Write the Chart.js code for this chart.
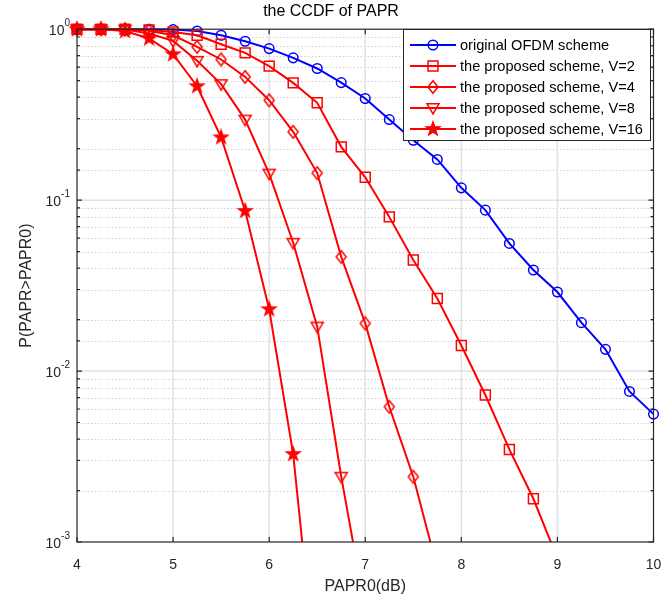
<!DOCTYPE html>
<html>
<head>
<meta charset="utf-8">
<title>CCDF of PAPR</title>
<script src="https://cdn.jsdelivr.net/npm/chart.js@4.4.0/dist/chart.umd.min.js"></script>
<style>
  html, body { margin: 0; padding: 0; background: #fff; }
</style>
</head>
<body>
<canvas id="ccdfChart" width="662" height="605"></canvas>
<script>
// PAPR threshold (dB) and CCDF curves
var paprDb = [4, 4.25, 4.5, 4.75, 5, 5.25, 5.5, 5.75, 6, 6.25, 6.5, 6.75, 7, 7.25, 7.5, 7.75, 8, 8.25, 8.5, 8.75, 9, 9.25, 9.5, 9.75, 10];
var ccdfOriginal = [1, 1, 1, 0.999, 0.995, 0.977, 0.922, 0.85, 0.77, 0.68, 0.589, 0.487, 0.393, 0.296, 0.224, 0.173, 0.118, 0.0874, 0.0558, 0.039, 0.029, 0.0192, 0.0134, 0.0076, 0.0056];
var ccdfV2 = [1, 1, 1, 0.99, 0.964, 0.922, 0.817, 0.727, 0.608, 0.485, 0.371, 0.205, 0.136, 0.0798, 0.0446, 0.0266, 0.0141, 0.00724, 0.00348, 0.00179, 0.0008];
var ccdfV4 = [1, 1, 1, 0.98, 0.922, 0.788, 0.665, 0.526, 0.384, 0.251, 0.144, 0.0466, 0.019, 0.00618, 0.00241, 0.0007];
var ccdfV8 = [1, 1, 0.995, 0.944, 0.854, 0.653, 0.477, 0.296, 0.143, 0.0563, 0.0182, 0.00241, 0.0004];
var ccdfV16 = [1, 1, 0.975, 0.882, 0.714, 0.464, 0.233, 0.0866, 0.023, 0.00327, 0.00014];

var seriesLabels = [
    "original OFDM scheme",
    "the proposed scheme, V=2",
    "the proposed scheme, V=4",
    "the proposed scheme, V=8",
    "the proposed scheme, V=16"
];

var axisInk = "#262626";
var fontFamily = '"Liberation Sans", Arial, Helvetica, sans-serif';

// small canvases for the marker shapes chart.js has no match for
function shapeMarker(size, color, filled, pts) {
    var c = document.createElement("canvas");
    c.width = size; c.height = size;
    var g = c.getContext("2d");
    g.beginPath();
    pts.forEach(function (p, i) {
        if (i === 0) g.moveTo(size / 2 + p[0], size / 2 + p[1]);
        else g.lineTo(size / 2 + p[0], size / 2 + p[1]);
    });
    g.closePath();
    if (filled) { g.fillStyle = color; g.fill(); }
    g.strokeStyle = color;
    g.lineWidth = 1.5;
    g.stroke();
    return c;
}

var starPts = [];
for (var k = 0; k < 10; k++) {
    var r = k % 2 ? 2.8 : 7;
    var ang = -Math.PI / 2 + k * Math.PI / 5;
    starPts.push([r * Math.cos(ang), r * Math.sin(ang)]);
}
var diamondMarker = shapeMarker(16, "#ff0000", false, [[0, -6.2], [5, 0], [0, 6.2], [-5, 0]]);
var downTriMarker = shapeMarker(16, "#ff0000", false, [[-6, -4.2], [6, -4.2], [0, 6]]);
var starMarker = shapeMarker(18, "#ff0000", true, starPts);

function toPoints(ys) {
    return ys.map(function (v, i) { return { x: paprDb[i], y: v }; });
}

function lineSet(label, ys, color, style, radius, order) {
    return {
        label: label,
        data: toPoints(ys),
        borderColor: color,
        backgroundColor: "rgba(0,0,0,0)",
        borderWidth: 2,
        pointStyle: style,
        pointRadius: radius,
        pointBorderWidth: 1.5,
        pointBorderColor: color,
        pointBackgroundColor: "rgba(0,0,0,0)",
        tension: 0,
        order: order,
        clip: { left: 9, top: 9, right: 9, bottom: 0 }
    };
}

function isDecade(v) {
    var e = Math.log10(v);
    return Math.abs(e - Math.round(e)) < 1e-9;
}

// grid, boxed axes with inward ticks, y labels with exponents, legend
var matlabAxes = {
    id: "matlabAxes",
    beforeDatasetsDraw: function (chart) {
        var ctx = chart.ctx, a = chart.chartArea, xs = chart.scales.x, ys = chart.scales.y;
        ctx.save();
        ctx.lineWidth = 1;
        ctx.strokeStyle = "#d2d2d2";
        ctx.setLineDash([1.5, 2]);
        ys.ticks.forEach(function (t) {
            if (isDecade(t.value)) return;
            var py = Math.round(ys.getPixelForValue(t.value)) + 0.5;
            ctx.beginPath(); ctx.moveTo(a.left, py); ctx.lineTo(a.right, py); ctx.stroke();
        });
        ctx.setLineDash([]);
        ctx.strokeStyle = "#e2e2e2";
        ctx.lineWidth = 1.5;
        ys.ticks.forEach(function (t) {
            if (!isDecade(t.value)) return;
            var py = ys.getPixelForValue(t.value);
            if (py <= a.top + 1 || py >= a.bottom - 1) return;
            ctx.beginPath(); ctx.moveTo(a.left, py); ctx.lineTo(a.right, py); ctx.stroke();
        });
        xs.ticks.forEach(function (t) {
            var px = xs.getPixelForValue(t.value);
            if (px <= a.left + 1 || px >= a.right - 1) return;
            ctx.beginPath(); ctx.moveTo(px, a.top); ctx.lineTo(px, a.bottom); ctx.stroke();
        });
        ctx.restore();
    },
    afterDraw: function (chart) {
        var ctx = chart.ctx, a = chart.chartArea, xs = chart.scales.x, ys = chart.scales.y;
        ctx.save();
        ctx.strokeStyle = axisInk;
        ctx.lineWidth = 1.2;
        ctx.strokeRect(a.left, a.top, a.right - a.left, a.bottom - a.top);

        ctx.beginPath();
        xs.ticks.forEach(function (t) {
            var px = xs.getPixelForValue(t.value);
            ctx.moveTo(px, a.bottom); ctx.lineTo(px, a.bottom - 5);
            ctx.moveTo(px, a.top); ctx.lineTo(px, a.top + 5);
        });
        ys.ticks.forEach(function (t) {
            var py = ys.getPixelForValue(t.value);
            var len = isDecade(t.value) ? 5 : 3;
            ctx.moveTo(a.left, py); ctx.lineTo(a.left + len, py);
            ctx.moveTo(a.right, py); ctx.lineTo(a.right - len, py);
        });
        ctx.stroke();

        // decade labels as 10 with a raised exponent
        ctx.fillStyle = axisInk;
        ctx.textBaseline = "middle";
        ys.ticks.forEach(function (t) {
            if (!isDecade(t.value)) return;
            var py = ys.getPixelForValue(t.value);
            var ex = String(Math.round(Math.log10(t.value)));
            ctx.font = "10px " + fontFamily;
            var ew = ctx.measureText(ex).width;
            var right = a.left - 7;
            ctx.textAlign = "left";
            ctx.fillText(ex, right - ew, py - 6);
            ctx.font = "14px " + fontFamily;
            ctx.textAlign = "right";
            ctx.fillText("10", right - ew, py + 2);
        });

        // legend box in the upper right corner
        var lx = 403, ly = 29, lw = 247, lh = 111;
        ctx.fillStyle = "#fff";
        ctx.fillRect(lx, ly, lw, lh);
        ctx.lineWidth = 1;
        ctx.strokeStyle = axisInk;
        ctx.strokeRect(lx + 0.5, ly + 0.5, lw, lh);
        var drawPoint = Chart.helpers && Chart.helpers.drawPoint;
        chart.data.datasets.forEach(function (ds, i) {
            var ry = 45 + i * 21;
            ctx.strokeStyle = ds.borderColor;
            ctx.fillStyle = "rgba(0,0,0,0)";
            ctx.lineWidth = 2;
            ctx.beginPath(); ctx.moveTo(410, ry); ctx.lineTo(456, ry); ctx.stroke();
            ctx.lineWidth = ds.pointBorderWidth;
            if (typeof ds.pointStyle === "string") {
                if (drawPoint) {
                    drawPoint(ctx, { pointStyle: ds.pointStyle, radius: ds.pointRadius, rotation: 0, borderWidth: ds.pointBorderWidth }, 433, ry);
                }
            } else {
                ctx.drawImage(ds.pointStyle, 433 - ds.pointStyle.width / 2, ry - ds.pointStyle.height / 2);
            }
            ctx.fillStyle = "#000";
            ctx.font = "14.6px " + fontFamily;
            ctx.textAlign = "left";
            ctx.textBaseline = "middle";
            ctx.fillText(ds.label, 460, ry + 1);
        });
        ctx.restore();
    }
};

new Chart("ccdfChart", {
    type: "line",
    data: {
        datasets: [
            lineSet(seriesLabels[0], ccdfOriginal, "#0000ff", "circle", 4.8, 5),
            lineSet(seriesLabels[1], ccdfV2, "#ff0000", "rect", 7, 4),
            lineSet(seriesLabels[2], ccdfV4, "#ff0000", diamondMarker, 6, 3),
            lineSet(seriesLabels[3], ccdfV8, "#ff0000", downTriMarker, 6, 2),
            lineSet(seriesLabels[4], ccdfV16, "#ff0000", starMarker, 7, 1)
        ]
    },
    options: {
        responsive: false,
        animation: false,
        events: [],
        layout: { padding: { top: 2, left: 8, right: 8, bottom: 4 } },
        plugins: {
            legend: { display: false },
            tooltip: { enabled: false },
            title: {
                display: true,
                text: "the CCDF of PAPR",
                color: "#000",
                font: { family: fontFamily, size: 16, weight: "normal" },
                padding: { top: 0, bottom: 8 }
            }
        },
        scales: {
            x: {
                type: "linear",
                min: 4,
                max: 10,
                grid: { display: false },
                border: { display: false },
                ticks: {
                    stepSize: 1,
                    color: axisInk,
                    maxRotation: 0,
                    padding: 7,
                    font: { family: fontFamily, size: 14 }
                },
                title: {
                    display: true,
                    text: "PAPR0(dB)",
                    color: axisInk,
                    font: { family: fontFamily, size: 16 },
                    padding: { top: 0, bottom: 5 }
                },
                afterFit: function (s) {
                    s.height = 59;
                    s.paddingLeft = 0;
                    s.paddingRight = 0;
                }
            },
            y: {
                type: "logarithmic",
                min: 0.001,
                max: 1,
                grid: { display: false },
                border: { display: false },
                ticks: { display: false },
                title: {
                    display: true,
                    text: "P(PAPR>PAPR0)",
                    color: axisInk,
                    font: { family: fontFamily, size: 16 },
                    padding: { top: 9, bottom: 0 }
                },
                afterFit: function (s) { s.width = 69; }
            }
        }
    },
    plugins: [matlabAxes]
});
</script>
</body>
</html>
